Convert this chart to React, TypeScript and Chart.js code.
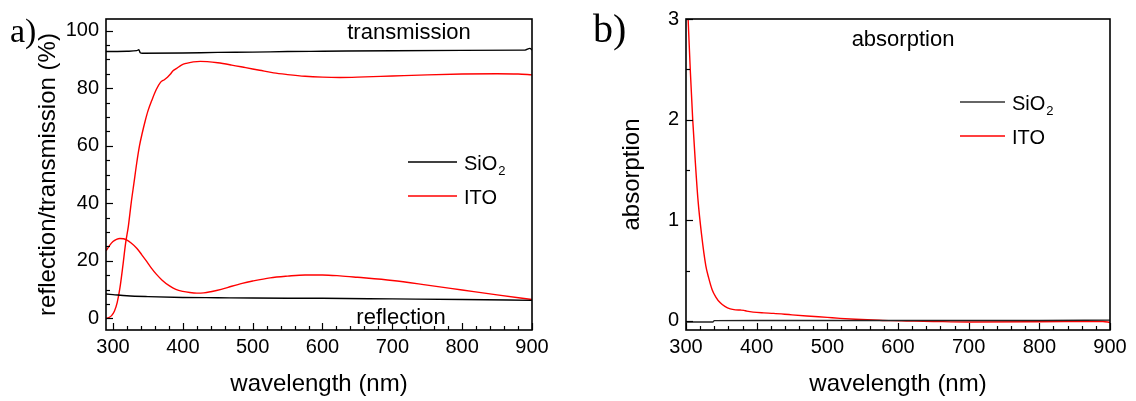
import React, { useEffect, useRef } from "react";
import { Chart, registerables } from "chart.js";

Chart.register(...registerables);

const SANS = "'Liberation Sans', Arial, sans-serif";
const SERIF = "'Liberation Serif', 'Times New Roman', serif";

// ---------- Panel a) reflection / transmission (%) ----------
const sio2TransWl = [290, 320, 334, 337, 339, 342, 400, 450, 500, 550, 600, 700, 800, 890, 897, 900];
const sio2TransVal = [92.7, 92.8, 93.0, 93.3, 92.3, 92.1, 92.2, 92.4, 92.5, 92.7, 92.8, 93.0, 93.1, 93.2, 93.8, 93.2];

const itoTransWl = [290, 294, 298, 302, 306, 310, 314, 318, 322, 326, 330, 334, 338, 342, 346, 350, 356, 362, 368, 374, 378, 382, 386, 392, 398, 405, 415, 425, 435, 450, 470, 490, 510, 530, 550, 575, 600, 625, 650, 700, 750, 800, 850, 880, 900];
const itoTransVal = [0, 0.3, 1, 2.5, 5.5, 10.7, 18, 26, 32, 40, 47, 54, 60, 64.5, 68.5, 72, 76, 79.5, 82, 83, 83.8, 84.8, 86, 87, 88, 88.6, 89.1, 89.3, 89.2, 88.8, 88, 87.1, 86.2, 85.3, 84.7, 84.1, 83.8, 83.7, 83.8, 84.2, 84.6, 84.9, 85.0, 84.9, 84.6];

const sio2ReflWl = [290, 300, 320, 350, 400, 450, 500, 600, 700, 800, 900];
const sio2ReflVal = [8.5, 8.3, 7.9, 7.6, 7.3, 7.2, 7.1, 7.0, 6.8, 6.6, 6.3];

const itoReflWl = [290, 295, 300, 305, 310, 315, 320, 326, 334, 341, 348, 355, 362, 370, 381, 390, 400, 410, 420, 430, 440, 455, 470, 485, 500, 525, 550, 575, 600, 625, 650, 700, 750, 800, 850, 900];
const itoReflVal = [23.5, 25.3, 26.7, 27.5, 27.8, 27.7, 27.2, 26.2, 24.4, 22.2, 19.9, 17.5, 15.4, 13.4, 11.3, 10.1, 9.4, 9.0, 8.8, 8.9, 9.3, 10.1, 11.2, 12.2, 13.0, 14.1, 14.7, 15.1, 15.1, 14.8, 14.3, 13.2, 11.6, 9.9, 8.2, 6.6];

// ---------- Panel b) absorption ----------
const sio2AbsWl = [300, 320, 338, 340, 400, 500, 600, 700, 800, 900];
const sio2AbsVal = [-0.01, -0.01, -0.01, 0.003, 0.005, 0.005, 0.004, 0.004, 0.005, 0.008];

const itoAbsWl = [300, 303, 306, 309.5, 313, 317, 322, 328, 332, 337, 342, 348.5, 355, 362.6, 370, 377, 382, 386, 395, 410, 424, 450, 471, 500, 518, 540, 565, 590, 612, 650, 700, 800, 890, 900];
const itoAbsVal = [3.4, 3.0, 2.5, 2.0, 1.6, 1.2, 0.86, 0.55, 0.43, 0.31, 0.24, 0.18, 0.145, 0.12, 0.11, 0.108, 0.105, 0.098, 0.088, 0.08, 0.075, 0.06, 0.049, 0.035, 0.026, 0.017, 0.01, 0.003, 0, -0.005, -0.01, -0.008, -0.005, -0.015];

// ---------- ticks ----------
const xTickLabels = [300, 400, 500, 600, 700, 800, 900];
const yTickLabelsA = [0, 20, 40, 60, 80, 100];
const yTickLabelsB = [0, 1, 2, 3];

const seriesNames = ["SiO", "ITO"];
const annotationA = ["transmission", "reflection"];
const annotationB = "absorption";

const pts = (wl: number[], val: number[]) => wl.map((x, i) => ({ x, y: val[i] }));

type Decor = {
  xMinorStep: number;
  xMajorStep: number;
  yMinorStep: number;
  yMajorStep: number;
  draw: (ctx: CanvasRenderingContext2D) => void;
};

function decorPlugin(d: Decor) {
  return {
    id: "decor",
    afterDraw(chart: any) {
      const { ctx, chartArea: a, scales } = chart;
      const x = scales.x;
      const y = scales.y;
      ctx.save();
      ctx.strokeStyle = "#000";
      ctx.lineWidth = 1.2;
      // x ticks (inward)
      const xs = Math.ceil(x.min / d.xMinorStep - 1e-9);
      const xe = Math.floor(x.max / d.xMinorStep + 1e-9);
      for (let k = xs; k <= xe; k++) {
        const v = k * d.xMinorStep;
        const px = Math.round(x.getPixelForValue(v)) + 0.5;
        const major = Math.abs(v / d.xMajorStep - Math.round(v / d.xMajorStep)) < 1e-6;
        const len = major ? 7 : 4;
        ctx.beginPath();
        ctx.moveTo(px, a.bottom);
        ctx.lineTo(px, a.bottom - len);
        ctx.stroke();
      }
      const ys = Math.ceil(y.min / d.yMinorStep - 1e-9);
      const ye = Math.floor(y.max / d.yMinorStep + 1e-9);
      for (let k = ys; k <= ye; k++) {
        const v = k * d.yMinorStep;
        const py = Math.round(y.getPixelForValue(v)) + 0.5;
        const major = Math.abs(v / d.yMajorStep - Math.round(v / d.yMajorStep)) < 1e-6;
        const len = major ? 7 : 4;
        ctx.beginPath();
        ctx.moveTo(a.left, py);
        ctx.lineTo(a.left + len, py);
        ctx.stroke();
      }
      // frame
      ctx.lineWidth = 1.6;
      ctx.strokeRect(a.left, a.top, a.right - a.left, a.bottom - a.top);
      d.draw(ctx);
      ctx.restore();
    },
  };
}

function drawLegend(
  ctx: CanvasRenderingContext2D,
  x1: number,
  x2: number,
  tx: number,
  y1: number,
  y2: number,
  c1: string,
  c2: string
) {
  ctx.lineWidth = 1.4;
  ctx.strokeStyle = c1;
  ctx.beginPath();
  ctx.moveTo(x1, y1);
  ctx.lineTo(x2, y1);
  ctx.stroke();
  ctx.strokeStyle = c2;
  ctx.beginPath();
  ctx.moveTo(x1, y2);
  ctx.lineTo(x2, y2);
  ctx.stroke();
  ctx.fillStyle = "#000";
  ctx.textAlign = "left";
  ctx.textBaseline = "alphabetic";
  ctx.font = `20px ${SANS}`;
  ctx.fillText(seriesNames[0], tx, y1 + 7.5);
  const w = ctx.measureText(seriesNames[0]).width;
  ctx.font = `13px ${SANS}`;
  ctx.fillText("2", tx + w + 1, y1 + 13);
  ctx.font = `20px ${SANS}`;
  ctx.fillText(seriesNames[1], tx, y2 + 7.5);
}

function baseOptions(
  xmin: number,
  xmax: number,
  ymin: number,
  ymax: number,
  yTicks: number[],
  yTitle: string,
  yAxisWidth: number,
  yTitlePad: number,
  rightPad: number
) {
  return {
    responsive: false,
    maintainAspectRatio: false,
    animation: false,
    devicePixelRatio: 1,
    layout: { padding: { left: 0, top: 14, right: rightPad, bottom: 0 } },
    plugins: { legend: { display: false }, tooltip: { enabled: false } },
    elements: { point: { radius: 0 }, line: { borderWidth: 1.4, cubicInterpolationMode: "monotone" } },
    scales: {
      x: {
        type: "linear",
        min: xmin,
        max: xmax,
        grid: { display: false, drawTicks: false },
        border: { display: false },
        afterBuildTicks: (s: any) => {
          s.ticks = xTickLabels.map((v) => ({ value: v }));
        },
        afterFit: (s: any) => {
          s.height = 71;
        },
        ticks: {
          padding: 5,
          color: "#000",
          font: { family: SANS, size: 20 },
          maxRotation: 0,
          autoSkip: false,
          callback: (v: any) => String(v),
        },
        title: {
          display: true,
          text: "wavelength (nm)",
          color: "#000",
          font: { family: SANS, size: 24, lineHeight: 1.2 },
          padding: { top: 0, bottom: 2.6 },
        },
      },
      y: {
        type: "linear",
        min: ymin,
        max: ymax,
        grid: { display: false, drawTicks: false },
        border: { display: false },
        afterBuildTicks: (s: any) => {
          s.ticks = yTicks.map((v) => ({ value: v }));
        },
        afterFit: (s: any) => {
          s.width = yAxisWidth;
        },
        ticks: {
          padding: 7,
          color: "#000",
          font: { family: SANS, size: 20 },
          autoSkip: false,
          callback: (v: any) => String(v),
        },
        title: {
          display: true,
          text: yTitle,
          color: "#000",
          font: { family: SANS, size: 24, lineHeight: 1.2 },
          padding: { top: yTitlePad, bottom: 0 },
        },
      },
    },
  };
}

export default function App() {
  const refA = useRef<HTMLCanvasElement>(null);
  const refB = useRef<HTMLCanvasElement>(null);

  useEffect(() => {
    const chartA = new Chart(refA.current as HTMLCanvasElement, {
      type: "line",
      data: {
        datasets: [
          { data: pts(sio2TransWl, sio2TransVal), borderColor: "#000" },
          { data: pts(sio2ReflWl, sio2ReflVal), borderColor: "#000" },
          { data: pts(itoTransWl, itoTransVal), borderColor: "#ff0000" },
          { data: pts(itoReflWl, itoReflVal), borderColor: "#ff0000" },
        ],
      },
      options: baseOptions(290, 900, -4, 104, yTicksA(), "reflection/transmission (%)", 106, 33.6, 36) as any,
      plugins: [
        decorPlugin({
          xMinorStep: 20,
          xMajorStep: 100,
          yMinorStep: 5,
          yMajorStep: 20,
          draw: (ctx) => {
            ctx.fillStyle = "#000";
            ctx.font = `22px ${SANS}`;
            ctx.textAlign = "center";
            ctx.textBaseline = "alphabetic";
            ctx.fillText(annotationA[0], 409, 39);
            ctx.fillText(annotationA[1], 401, 324);
            drawLegend(ctx, 408, 457, 464, 162, 196, "#000", "#ff0000");
            ctx.font = `34px ${SERIF}`;
            ctx.textAlign = "left";
            ctx.fillStyle = "#000";
            ctx.fillText("a)", 10, 42);
          },
        }),
      ],
    });

    const chartB = new Chart(refB.current as HTMLCanvasElement, {
      type: "line",
      data: {
        datasets: [
          { data: pts(sio2AbsWl, sio2AbsVal), borderColor: "#222" },
          { data: pts(itoAbsWl, itoAbsVal), borderColor: "#ff0000" },
        ],
      },
      options: baseOptions(300, 900, -0.09, 3, yTickLabelsB, "absorption", 118, 49.8, 26) as any,
      plugins: [
        decorPlugin({
          xMinorStep: 20,
          xMajorStep: 100,
          yMinorStep: 0.5,
          yMajorStep: 1,
          draw: (ctx) => {
            ctx.fillStyle = "#000";
            ctx.font = `22px ${SANS}`;
            ctx.textAlign = "center";
            ctx.textBaseline = "alphabetic";
            ctx.fillText(annotationB, 335, 46);
            drawLegend(ctx, 392, 437, 444, 102, 136, "#333", "#ff0000");
            ctx.font = `40px ${SERIF}`;
            ctx.textAlign = "left";
            ctx.fillStyle = "#000";
            ctx.fillText("b)", 25, 42);
          },
        }),
      ],
    });

    return () => {
      chartA.destroy();
      chartB.destroy();
    };
  }, []);

  return (
    <div style={{ position: "absolute", left: 0, top: 0, width: 1136, height: 401, background: "#fff" }}>
      <canvas ref={refA} width={568} height={401} style={{ position: "absolute", left: 0, top: 0, width: 568, height: 401 }} />
      <canvas ref={refB} width={568} height={401} style={{ position: "absolute", left: 568, top: 0, width: 568, height: 401 }} />
    </div>
  );
}

function yTicksA() {
  return yTickLabelsA;
}
